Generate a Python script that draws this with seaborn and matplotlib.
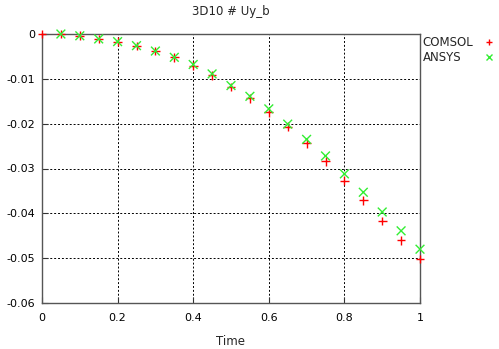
import pandas as pd
import seaborn as sns
import matplotlib.pyplot as plt

# Data
time_comsol = [0.0, 0.05, 0.1, 0.15, 0.2, 0.25, 0.3, 0.35, 0.4, 0.45, 0.5,
               0.55, 0.6, 0.65, 0.7, 0.75, 0.8, 0.85, 0.9, 0.95, 1.0]
uy_comsol = [0.0, 0.0, -0.0004, -0.0011, -0.0017, -0.0027, -0.0038, -0.0052,
             -0.0071, -0.0092, -0.0118, -0.0143, -0.0175, -0.0207, -0.0244,
             -0.0284, -0.0327, -0.0371, -0.0417, -0.0460, -0.0502]
time_ansys = [0.05, 0.1, 0.15, 0.2, 0.25, 0.3, 0.35, 0.4, 0.45, 0.5,
              0.55, 0.6, 0.65, 0.7, 0.75, 0.8, 0.85, 0.9, 0.95, 1.0]
uy_ansys = [0.0, -0.0004, -0.0011, -0.0017, -0.0026, -0.0038, -0.0052,
            -0.0068, -0.0089, -0.0115, -0.0139, -0.0167, -0.0201, -0.0235,
            -0.0272, -0.0312, -0.0353, -0.0397, -0.0439, -0.0480]

df = pd.concat([
    pd.DataFrame({'Time': time_comsol, 'Uy': uy_comsol, 'code': 'COMSOL'}),
    pd.DataFrame({'Time': time_ansys, 'Uy': uy_ansys, 'code': 'ANSYS'}),
])

sns.set_style('white')
plt.rcParams['font.family'] = ['DejaVu Sans']
plt.rcParams['font.size'] = 8

fig = plt.figure(figsize=(4.99, 3.49), dpi=100)
ax = fig.add_axes([42/499, 1 - 303/349, 378/499, 269/349])

sns.scatterplot(data=df, x='Time', y='Uy', hue='code', style='code',
                palette={'COMSOL': '#ff0000', 'ANSYS': '#33ee33'},
                markers={'COMSOL': '+', 'ANSYS': 'x'},
                s=40, linewidth=1.0, ax=ax, clip_on=False, zorder=3)

ax.set_xlim(0, 1)
ax.set_ylim(-0.06, 0)
ax.set_xticks([0, 0.2, 0.4, 0.6, 0.8, 1])
ax.set_xticklabels(['0', '0.2', '0.4', '0.6', '0.8', '1'])
ax.set_yticks([0, -0.01, -0.02, -0.03, -0.04, -0.05, -0.06])
ax.set_yticklabels(['0', '-0.01', '-0.02', '-0.03', '-0.04', '-0.05', '-0.06'])
ax.grid(True, color='black', linestyle=(0, (2, 2)), linewidth=0.7)
ax.tick_params(axis='both', direction='in', length=4, width=0.8,
               colors='#333333', labelcolor='black', labelsize=8,
               bottom=True, left=True)
ax.tick_params(axis='x', pad=7)
ax.tick_params(axis='y', pad=5)
for s in ax.spines.values():
    s.set_color('#555555')
    s.set_linewidth(1.0)

ax.set_xlabel('Time', fontsize=8.5, labelpad=9)
ax.set_ylabel('')
ax.set_title('3D10 # Uy_b', fontsize=8.5, pad=14)

# legend outside on the right: left-aligned names, markers further right
handles, labels = ax.get_legend_handles_labels()
ax.get_legend().remove()
leg_txt = ax.legend([plt.Line2D([], [], visible=False)] * len(labels), labels,
                    loc='upper left', bbox_to_anchor=(0.995, 1.01),
                    frameon=False, fontsize=8.5, handlelength=0,
                    handletextpad=0, labelspacing=0.15, borderaxespad=0)
ax.add_artist(leg_txt)
ax.legend(handles, [''] * len(handles), loc='upper left',
          bbox_to_anchor=(1.155, 1.01), frameon=False, fontsize=8.5,
          markerscale=0.75, handlelength=1, handletextpad=0,
          labelspacing=0.15, borderaxespad=0)

fig.savefig('out.png', dpi=100)
